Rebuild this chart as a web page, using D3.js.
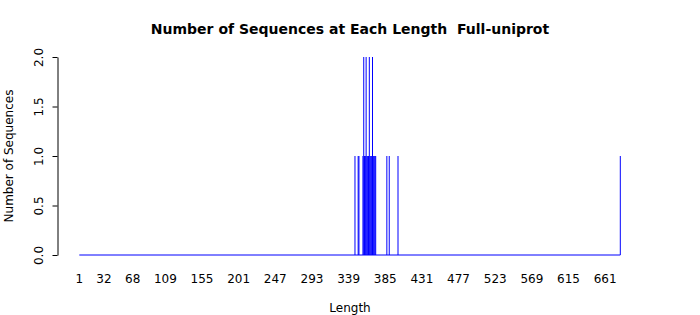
<!DOCTYPE html>
<html>
<head>
<meta charset="utf-8">
<script src="https://cdn.jsdelivr.net/npm/d3@7/dist/d3.min.js"></script>
<style>
  body { margin: 0; background: #fff; }
  text { font-family: "DejaVu Sans", sans-serif; }
</style>
</head>
<body>
<svg id="chart" width="700" height="315"></svg>
<script>
// Data
const lengthRange = [1, 680];
const lengths = [347, 351, 352, 357, 358, 359, 360, 361, 362, 363, 364, 365, 366, 367, 368, 369, 370, 371, 372, 373, 387, 390, 401, 680];
const counts  = [1,   1,   1,   1,   2,   1,   1,   2,   1,   1,   1,   2,   1,   1,   1,   2,   1,   1,   1,   1,   1,   1,   1,   1];
const xTickLabels = [1, 32, 68, 109, 155, 201, 247, 293, 339, 385, 431, 477, 523, 569, 615, 661];
const yTicks = [0, 0.5, 1, 1.5, 2];

const svg = d3.select("#chart");
const x = d3.scaleLinear().domain(lengthRange).range([79.3, 620.3]);
const y = d3.scaleLinear().domain([0, 2]).range([255, 57]);

// Title
svg.append("text")
  .attr("x", 350).attr("y", 34)
  .attr("text-anchor", "middle")
  .attr("font-weight", "bold")
  .attr("font-size", 14)
  .style("white-space", "pre")
  .text("Number of Sequences at Each Length  Full-uniprot");

// Baseline (zero counts across all lengths)
svg.append("line")
  .attr("x1", x(lengthRange[0])).attr("x2", x(lengthRange[1]))
  .attr("y1", y(0)).attr("y2", y(0))
  .attr("stroke", "#0000ff").attr("stroke-width", 1);

// Bars (type "h" lines)
svg.append("g").selectAll("line")
  .data(lengths.map((l, i) => ({ l, c: counts[i] })))
  .join("line")
  .attr("x1", d => x(d.l)).attr("x2", d => x(d.l))
  .attr("y1", y(0)).attr("y2", d => y(d.c))
  .attr("stroke", "#0000ff").attr("stroke-width", 1);

// Y axis
const yAxis = d3.axisLeft(y).tickValues(yTicks).tickFormat(d3.format(".1f")).tickSize(5).tickSizeOuter(0);
const gy = svg.append("g").attr("transform", "translate(57.5,0)").call(yAxis);
gy.select(".domain").attr("stroke", "#000");
gy.selectAll(".tick line").attr("stroke", "#000");
gy.selectAll(".tick text")
  .attr("font-size", 12)
  .attr("font-family", "DejaVu Sans, sans-serif")
  .attr("fill", "#000")
  .attr("text-anchor", "middle")
  .attr("x", 0).attr("dy", 0)
  .attr("transform", "translate(-15,0) rotate(-90)");

// X tick labels (no axis line)
svg.append("g").selectAll("text")
  .data(xTickLabels)
  .join("text")
  .attr("x", d => x(d)).attr("y", 283)
  .attr("text-anchor", "middle")
  .attr("font-size", 12)
  .text(d => d);

// Axis titles
svg.append("text")
  .attr("x", 350).attr("y", 312)
  .attr("text-anchor", "middle")
  .attr("font-size", 12)
  .text("Length");

svg.append("text")
  .attr("transform", "translate(13,156) rotate(-90)")
  .attr("text-anchor", "middle")
  .attr("font-size", 12)
  .text("Number of Sequences");
</script>
</body>
</html>
